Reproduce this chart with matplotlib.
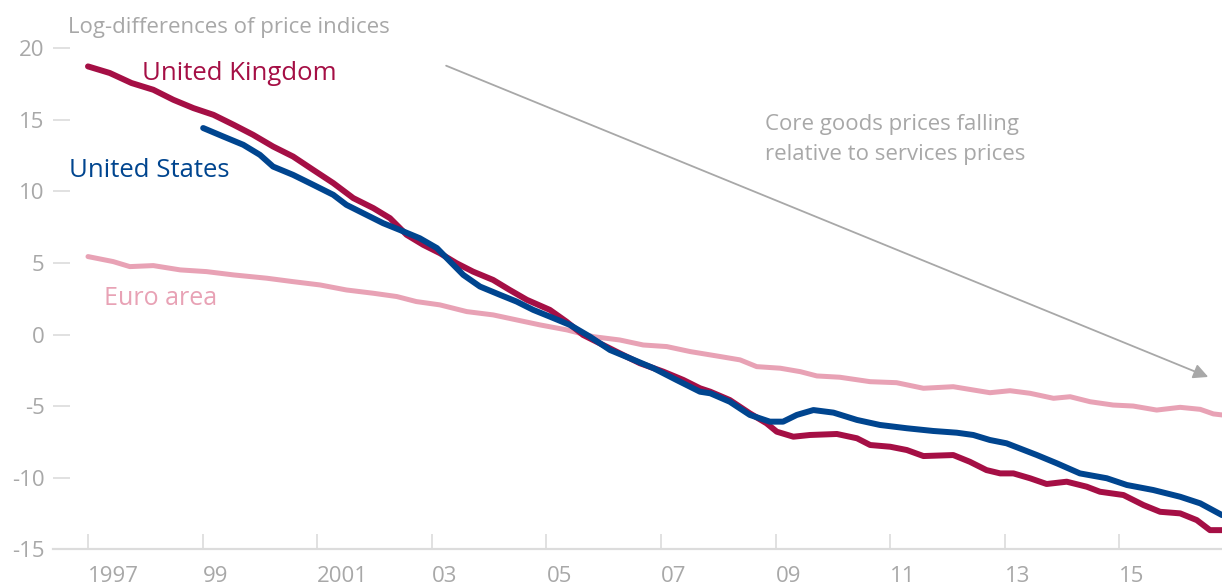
import matplotlib
matplotlib.use("Agg")
import matplotlib.pyplot as plt

# values (log-differences of core goods vs services prices)
uk_years = [1997.0, 1997.38, 1997.76, 1998.14, 1998.49, 1998.84, 1999.19, 1999.54, 1999.88,
            2000.23, 2000.58, 2000.93, 2001.28, 2001.63, 2001.98, 2002.27, 2002.56, 2002.85,
            2003.14, 2003.43, 2003.72, 2004.07, 2004.36, 2004.66, 2005.06, 2005.35, 2005.64,
            2005.93, 2006.28, 2006.63, 2007.04, 2007.39, 2007.68, 2007.86, 2008.2, 2008.55,
            2008.84, 2009.02, 2009.31, 2009.6, 2010.07, 2010.42, 2010.65, 2011.0, 2011.29,
            2011.58, 2012.1, 2012.39, 2012.68, 2012.92, 2013.15, 2013.44, 2013.73, 2014.08,
            2014.43, 2014.66, 2015.07, 2015.42, 2015.71, 2016.06, 2016.35, 2016.58, 2016.79]
uk_values = [18.71, 18.25, 17.55, 17.08, 16.38, 15.80, 15.33, 14.64, 13.94,
             13.12, 12.42, 11.49, 10.57, 9.52, 8.82, 8.12, 6.96, 6.26,
             5.68, 4.98, 4.39, 3.81, 3.11, 2.42, 1.72, 0.90, -0.03,
             -0.61, -1.31, -2.00, -2.59, -3.17, -3.75, -3.99, -4.57, -5.50,
             -6.19, -6.78, -7.13, -7.01, -6.94, -7.24, -7.71, -7.83, -8.06,
             -8.48, -8.41, -8.88, -9.46, -9.69, -9.69, -10.03, -10.43, -10.27,
             -10.62, -10.97, -11.20, -11.90, -12.37, -12.48, -12.95, -13.65, -13.65]

us_years = [1999.01, 1999.36, 1999.71, 2000.0, 2000.23, 2000.58, 2000.93, 2001.28, 2001.51,
            2001.86, 2002.15, 2002.44, 2002.79, 2003.09, 2003.32, 2003.55, 2003.84, 2004.19,
            2004.48, 2004.77, 2005.06, 2005.41, 2005.76, 2006.11, 2006.46, 2006.87, 2007.27,
            2007.68, 2007.86, 2008.2, 2008.55, 2008.9, 2009.13, 2009.37, 2009.66, 2010.01,
            2010.42, 2010.82, 2011.29, 2011.75, 2012.16, 2012.45, 2012.74, 2013.03, 2013.56,
            2013.91, 2014.31, 2014.78, 2015.13, 2015.59, 2016.06, 2016.41, 2016.79]
us_values = [14.41, 13.82, 13.24, 12.54, 11.72, 11.14, 10.45, 9.75, 9.05,
             8.35, 7.77, 7.30, 6.72, 6.03, 5.09, 4.16, 3.35, 2.77,
             2.30, 1.72, 1.25, 0.67, -0.15, -1.08, -1.66, -2.35, -3.17,
             -3.99, -4.10, -4.69, -5.61, -6.08, -6.08, -5.61, -5.27, -5.45,
             -5.96, -6.31, -6.54, -6.73, -6.85, -7.01, -7.36, -7.59, -8.41,
             -8.99, -9.69, -10.03, -10.50, -10.85, -11.32, -11.78, -12.60]

ea_years = [1997.0, 1997.44, 1997.73, 1998.14, 1998.61, 1999.07, 1999.54, 2000.12, 2000.58,
            2001.05, 2001.51, 2001.98, 2002.39, 2002.73, 2003.14, 2003.61, 2004.07, 2004.48,
            2004.89, 2005.36, 2005.82, 2006.28, 2006.69, 2007.1, 2007.51, 2008.04, 2008.38,
            2008.67, 2009.08, 2009.43, 2009.72, 2010.12, 2010.65, 2011.11, 2011.58, 2012.1,
            2012.45, 2012.74, 2013.09, 2013.44, 2013.85, 2014.14, 2014.49, 2014.89, 2015.24,
            2015.65, 2016.06, 2016.41, 2016.64, 2016.79]
ea_values = [5.44, 5.09, 4.74, 4.81, 4.51, 4.39, 4.16, 3.93, 3.69,
             3.46, 3.11, 2.88, 2.65, 2.30, 2.07, 1.60, 1.37, 1.02,
             0.67, 0.32, -0.15, -0.38, -0.73, -0.84, -1.19, -1.54, -1.77,
             -2.24, -2.35, -2.59, -2.89, -2.98, -3.29, -3.36, -3.75, -3.64,
             -3.87, -4.06, -3.92, -4.10, -4.45, -4.34, -4.69, -4.92, -4.99,
             -5.27, -5.08, -5.22, -5.54, -5.61]

tick_years = [1997, 1999, 2001, 2003, 2005, 2007, 2009, 2011, 2013, 2015]
tick_labels = ["1997", "99", "2001", "03", "05", "07", "09", "11", "13", "15"]
y_ticks = [-15, -10, -5, 0, 5, 10, 15, 20]

UK_COL = "#a50f45"
US_COL = "#00458f"
EA_COL = "#e8a2b5"
GREY = "#a8a8a8"
LIGHT = "#dcdcdc"

plt.rcParams['font.family'] = ['Open Sans', 'DejaVu Sans']
plt.rcParams['axes.unicode_minus'] = False

fig = plt.figure(figsize=(12.22, 5.88), dpi=100)
ax = fig.add_axes([0.0434, 0.0655, 0.9566, 0.853])

line_kw = dict(solid_capstyle='round', solid_joinstyle='round')
ax.plot(ea_years, ea_values, color=EA_COL, lw=3.6, zorder=2, **line_kw)
ax.plot(uk_years, uk_values, color=UK_COL, lw=4.3, zorder=3, **line_kw)
ax.plot(us_years, us_values, color=US_COL, lw=4.3, zorder=4, **line_kw)

ax.set_xlim(1996.39, 2016.79)
ax.set_ylim(-15, 20)

for s in ['top', 'right', 'left']:
    ax.spines[s].set_visible(False)
ax.spines['bottom'].set_color(LIGHT)
ax.spines['bottom'].set_linewidth(1.6)

ax.set_xticks(tick_years)
ax.set_xticklabels(tick_labels, ha='left')
ax.set_yticks(y_ticks)
ax.tick_params(axis='x', direction='in', length=11, width=1.2, color=LIGHT,
               labelcolor=GREY, labelsize=16, pad=12)
ax.tick_params(axis='y', direction='in', length=12, width=1.2, color=LIGHT,
               labelcolor=GREY, labelsize=16, pad=6)

ax.text(1996.65, 21.4, "Log-differences of price indices", color=GREY, fontsize=16,
        va='center', ha='left')
ax.text(1997.94, 18.2, "United Kingdom", color=UK_COL, fontsize=18.5, va='center', ha='left')
ax.text(1996.67, 11.42, "United States", color=US_COL, fontsize=18.5, va='center', ha='left')
ax.text(1997.28, 2.5, "Euro area", color=EA_COL, fontsize=18, va='center', ha='left')
ax.text(2008.81, 13.6, "Core goods prices falling\nrelative to services prices", color=GREY,
        fontsize=16, va='center', ha='left', linespacing=1.55)

ax.annotate("", xy=(2016.55, -2.96), xytext=(2003.25, 18.76),
            arrowprops=dict(arrowstyle='-|>', color=GREY, lw=1.3, mutation_scale=22,
                            shrinkA=0, shrinkB=0))

fig.savefig("out.png", dpi=100)
